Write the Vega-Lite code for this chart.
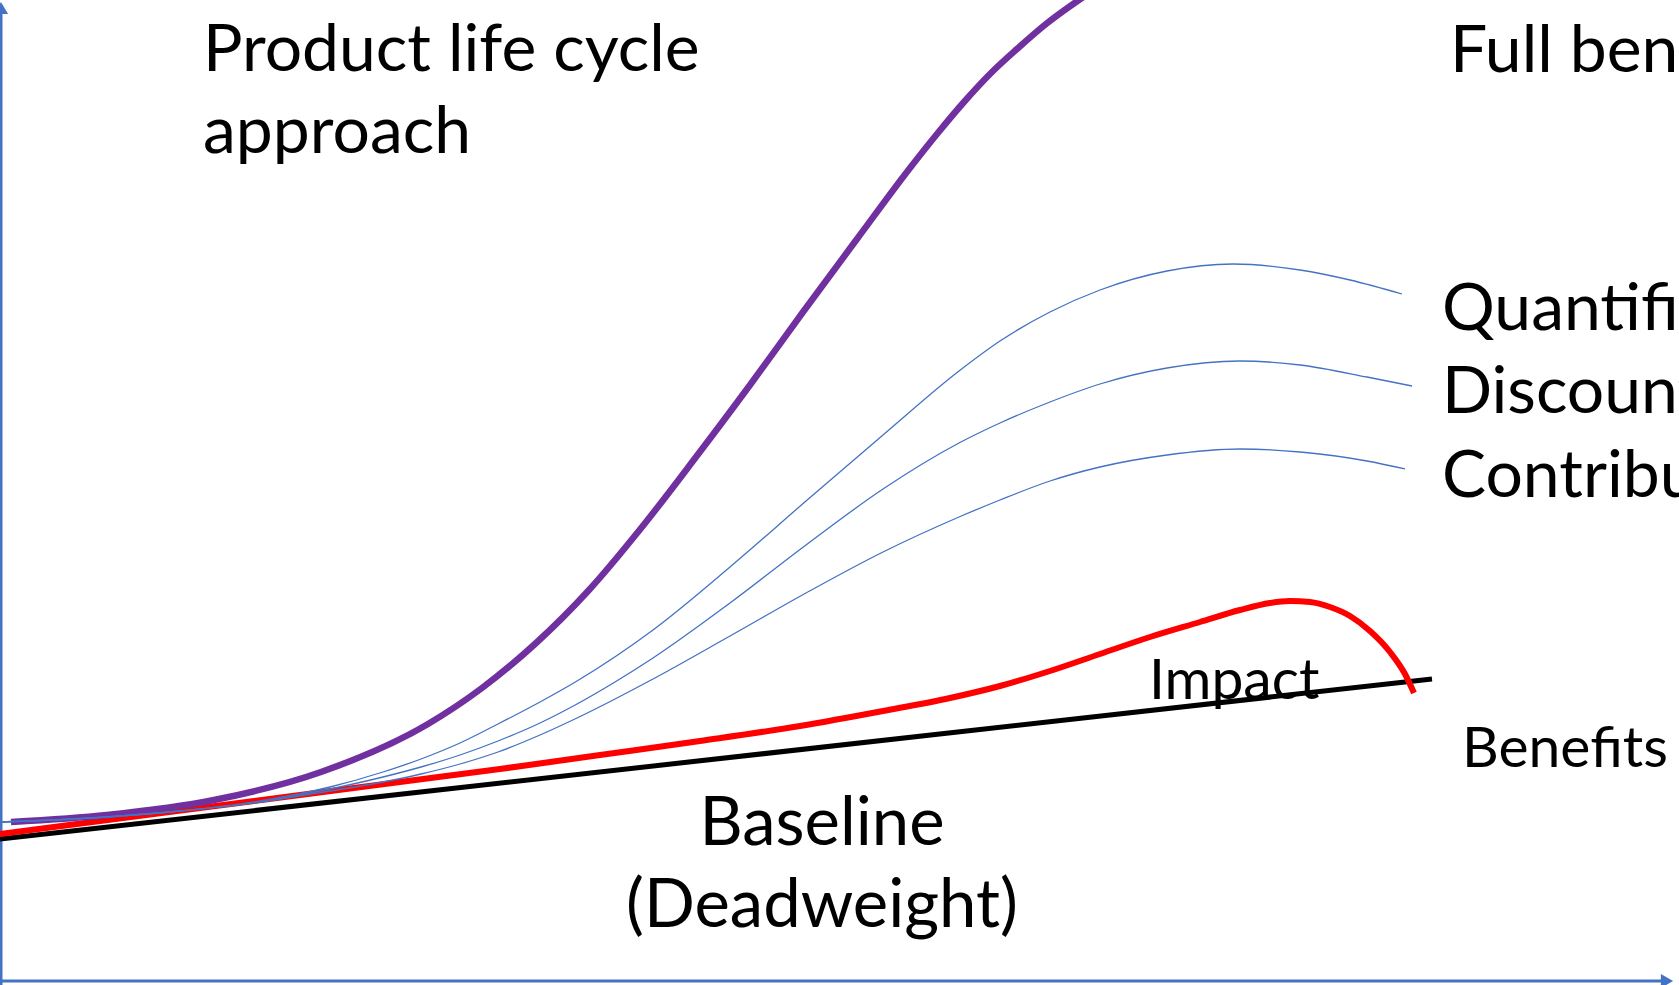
{
  "$schema": "https://vega.github.io/schema/vega-lite/v6.json",
  "width": 1679,
  "height": 985,
  "autosize": "none",
  "padding": 0,
  "background": "white",
  "view": {"stroke": null},
  "config": {"font": "Lato"},
  "datasets": {
    "curves": [
      {"series": "Baseline", "x": 0, "y": 839},
      {"series": "Baseline", "x": 1432, "y": 679},
      {"series": "Impact", "x": 0, "y": 834},
      {"series": "Impact", "x": 100, "y": 821},
      {"series": "Impact", "x": 200, "y": 808},
      {"series": "Impact", "x": 300, "y": 795},
      {"series": "Impact", "x": 400, "y": 782},
      {"series": "Impact", "x": 500, "y": 769},
      {"series": "Impact", "x": 600, "y": 755},
      {"series": "Impact", "x": 700, "y": 741},
      {"series": "Impact", "x": 800, "y": 726},
      {"series": "Impact", "x": 883, "y": 711},
      {"series": "Impact", "x": 950, "y": 698},
      {"series": "Impact", "x": 1000, "y": 686},
      {"series": "Impact", "x": 1050, "y": 671},
      {"series": "Impact", "x": 1100, "y": 654},
      {"series": "Impact", "x": 1150, "y": 637},
      {"series": "Impact", "x": 1200, "y": 622},
      {"series": "Impact", "x": 1240, "y": 610},
      {"series": "Impact", "x": 1270, "y": 603},
      {"series": "Impact", "x": 1290, "y": 601},
      {"series": "Impact", "x": 1310, "y": 602},
      {"series": "Impact", "x": 1330, "y": 607},
      {"series": "Impact", "x": 1350, "y": 616},
      {"series": "Impact", "x": 1370, "y": 631},
      {"series": "Impact", "x": 1390, "y": 652},
      {"series": "Impact", "x": 1405, "y": 674},
      {"series": "Impact", "x": 1414, "y": 693},
      {"series": "Full", "x": 11, "y": 822},
      {"series": "Full", "x": 107, "y": 815},
      {"series": "Full", "x": 214, "y": 800},
      {"series": "Full", "x": 321, "y": 772},
      {"series": "Full", "x": 428, "y": 724},
      {"series": "Full", "x": 482, "y": 688},
      {"series": "Full", "x": 535, "y": 644},
      {"series": "Full", "x": 589, "y": 590},
      {"series": "Full", "x": 642, "y": 527},
      {"series": "Full", "x": 696, "y": 457},
      {"series": "Full", "x": 750, "y": 385},
      {"series": "Full", "x": 803, "y": 312},
      {"series": "Full", "x": 857, "y": 239},
      {"series": "Full", "x": 910, "y": 168},
      {"series": "Full", "x": 937, "y": 134},
      {"series": "Full", "x": 964, "y": 102},
      {"series": "Full", "x": 990, "y": 74},
      {"series": "Full", "x": 1017, "y": 49},
      {"series": "Full", "x": 1046, "y": 24},
      {"series": "Full", "x": 1076, "y": 2},
      {"series": "Full", "x": 1110, "y": -20},
      {"series": "Quantified", "x": 0, "y": 822},
      {"series": "Quantified", "x": 90, "y": 818},
      {"series": "Quantified", "x": 180, "y": 811},
      {"series": "Quantified", "x": 260, "y": 801},
      {"series": "Quantified", "x": 330, "y": 787},
      {"series": "Quantified", "x": 383, "y": 772},
      {"series": "Quantified", "x": 421, "y": 759},
      {"series": "Quantified", "x": 460, "y": 743},
      {"series": "Quantified", "x": 498, "y": 724},
      {"series": "Quantified", "x": 540, "y": 702},
      {"series": "Quantified", "x": 577, "y": 681},
      {"series": "Quantified", "x": 653, "y": 630},
      {"series": "Quantified", "x": 730, "y": 567},
      {"series": "Quantified", "x": 806, "y": 501},
      {"series": "Quantified", "x": 883, "y": 435},
      {"series": "Quantified", "x": 959, "y": 371},
      {"series": "Quantified", "x": 1000, "y": 341},
      {"series": "Quantified", "x": 1050, "y": 312},
      {"series": "Quantified", "x": 1100, "y": 290},
      {"series": "Quantified", "x": 1167, "y": 271},
      {"series": "Quantified", "x": 1233, "y": 264},
      {"series": "Quantified", "x": 1300, "y": 270},
      {"series": "Quantified", "x": 1350, "y": 280},
      {"series": "Quantified", "x": 1402, "y": 294},
      {"series": "Discounted", "x": 0, "y": 822},
      {"series": "Discounted", "x": 90, "y": 818},
      {"series": "Discounted", "x": 180, "y": 811},
      {"series": "Discounted", "x": 260, "y": 802},
      {"series": "Discounted", "x": 330, "y": 789},
      {"series": "Discounted", "x": 383, "y": 777},
      {"series": "Discounted", "x": 421, "y": 767},
      {"series": "Discounted", "x": 460, "y": 755},
      {"series": "Discounted", "x": 498, "y": 741},
      {"series": "Discounted", "x": 540, "y": 723},
      {"series": "Discounted", "x": 577, "y": 704},
      {"series": "Discounted", "x": 615, "y": 682},
      {"series": "Discounted", "x": 653, "y": 658},
      {"series": "Discounted", "x": 730, "y": 603},
      {"series": "Discounted", "x": 806, "y": 545},
      {"series": "Discounted", "x": 883, "y": 489},
      {"series": "Discounted", "x": 959, "y": 443},
      {"series": "Discounted", "x": 1000, "y": 423},
      {"series": "Discounted", "x": 1050, "y": 402},
      {"series": "Discounted", "x": 1100, "y": 384},
      {"series": "Discounted", "x": 1167, "y": 368},
      {"series": "Discounted", "x": 1240, "y": 361},
      {"series": "Discounted", "x": 1300, "y": 365},
      {"series": "Discounted", "x": 1367, "y": 377},
      {"series": "Discounted", "x": 1412, "y": 386},
      {"series": "Contribution", "x": 0, "y": 822},
      {"series": "Contribution", "x": 90, "y": 818},
      {"series": "Contribution", "x": 180, "y": 811},
      {"series": "Contribution", "x": 260, "y": 802},
      {"series": "Contribution", "x": 330, "y": 791},
      {"series": "Contribution", "x": 383, "y": 782},
      {"series": "Contribution", "x": 421, "y": 774},
      {"series": "Contribution", "x": 460, "y": 764},
      {"series": "Contribution", "x": 498, "y": 752},
      {"series": "Contribution", "x": 540, "y": 735},
      {"series": "Contribution", "x": 577, "y": 718},
      {"series": "Contribution", "x": 653, "y": 679},
      {"series": "Contribution", "x": 730, "y": 636},
      {"series": "Contribution", "x": 806, "y": 593},
      {"series": "Contribution", "x": 883, "y": 552},
      {"series": "Contribution", "x": 959, "y": 517},
      {"series": "Contribution", "x": 1000, "y": 500},
      {"series": "Contribution", "x": 1050, "y": 481},
      {"series": "Contribution", "x": 1100, "y": 467},
      {"series": "Contribution", "x": 1167, "y": 455},
      {"series": "Contribution", "x": 1240, "y": 449},
      {"series": "Contribution", "x": 1300, "y": 452},
      {"series": "Contribution", "x": 1367, "y": 461},
      {"series": "Contribution", "x": 1405, "y": 469}
    ],
    "axes": [
      {"axis": "vertical", "x": 1, "y": 985, "x2": 1, "y2": 8},
      {"axis": "horizontal", "x": 0, "y": 981, "x2": 1662, "y2": 981}
    ],
    "arrows": [
      {"axis": "vertical", "x": 1, "y": 8, "dir": "up"},
      {"axis": "horizontal", "x": 1667, "y": 981, "dir": "right"}
    ],
    "bigText": [
      {"label": "Product life cycle", "x": 203, "y": 71},
      {"label": "approach", "x": 203, "y": 153},
      {"label": "Full benefits", "x": 1450, "y": 72},
      {"label": "Quantified", "x": 1442, "y": 330},
      {"label": "Discounted", "x": 1442, "y": 413},
      {"label": "Contribution", "x": 1442, "y": 497}
    ],
    "centerText": [
      {"label": "Baseline", "x": 822, "y": 845},
      {"label": "(Deadweight)", "x": 822, "y": 927}
    ],
    "smallText": [
      {"label": "Impact", "x": 1149, "y": 699},
      {"label": "Benefits", "x": 1462, "y": 767}
    ]
  },
  "layer": [
    {
      "data": {"name": "axes"},
      "mark": {"type": "rule", "color": "#4472C4", "strokeWidth": 3},
      "encoding": {
        "x": {"field": "x", "type": "quantitative", "scale": {"domain": [0, 1679], "nice": false, "zero": false}, "axis": null},
        "y": {"field": "y", "type": "quantitative", "scale": {"domain": [0, 985], "nice": false, "zero": false, "reverse": true}, "axis": null},
        "x2": {"field": "x2"},
        "y2": {"field": "y2"}
      }
    },
    {
      "data": {"name": "arrows"},
      "transform": [{"filter": "datum.dir === 'up'"}],
      "mark": {"type": "point", "shape": "triangle-up", "filled": true, "color": "#4472C4", "size": 200, "opacity": 1},
      "encoding": {
        "x": {"field": "x", "type": "quantitative"},
        "y": {"field": "y", "type": "quantitative"}
      }
    },
    {
      "data": {"name": "arrows"},
      "transform": [{"filter": "datum.dir === 'right'"}],
      "mark": {"type": "point", "shape": "triangle-right", "filled": true, "color": "#4472C4", "size": 200, "opacity": 1},
      "encoding": {
        "x": {"field": "x", "type": "quantitative"},
        "y": {"field": "y", "type": "quantitative"}
      }
    },
    {
      "data": {"name": "curves"},
      "transform": [{"filter": "datum.series === 'Baseline'"}],
      "mark": {"type": "line", "color": "#000000", "strokeWidth": 5, "clip": true},
      "encoding": {
        "x": {"field": "x", "type": "quantitative"},
        "y": {"field": "y", "type": "quantitative"}
      }
    },
    {
      "data": {"name": "curves"},
      "transform": [{"filter": "datum.series === 'Impact'"}],
      "mark": {"type": "line", "color": "#FF0000", "strokeWidth": 6, "interpolate": "monotone", "clip": true},
      "encoding": {
        "x": {"field": "x", "type": "quantitative"},
        "y": {"field": "y", "type": "quantitative"}
      }
    },
    {
      "data": {"name": "curves"},
      "transform": [{"filter": "datum.series === 'Full'"}],
      "mark": {"type": "line", "color": "#7030A0", "strokeWidth": 6.5, "interpolate": "monotone", "clip": true},
      "encoding": {
        "x": {"field": "x", "type": "quantitative"},
        "y": {"field": "y", "type": "quantitative"}
      }
    },
    {
      "data": {"name": "curves"},
      "transform": [{"filter": "datum.series === 'Quantified' || datum.series === 'Discounted' || datum.series === 'Contribution'"}],
      "mark": {"type": "line", "color": "#4472C4", "strokeWidth": 1.3, "interpolate": "monotone", "clip": true},
      "encoding": {
        "x": {"field": "x", "type": "quantitative"},
        "y": {"field": "y", "type": "quantitative"},
        "detail": {"field": "series", "type": "nominal"}
      }
    },
    {
      "data": {"name": "bigText"},
      "mark": {"type": "text", "align": "left", "baseline": "alphabetic", "fontSize": 66, "color": "#000000", "font": "Lato"},
      "encoding": {
        "x": {"field": "x", "type": "quantitative"},
        "y": {"field": "y", "type": "quantitative"},
        "text": {"field": "label"}
      }
    },
    {
      "data": {"name": "centerText"},
      "mark": {"type": "text", "align": "center", "baseline": "alphabetic", "fontSize": 67, "color": "#000000", "font": "Lato"},
      "encoding": {
        "x": {"field": "x", "type": "quantitative"},
        "y": {"field": "y", "type": "quantitative"},
        "text": {"field": "label"}
      }
    },
    {
      "data": {"name": "smallText"},
      "mark": {"type": "text", "align": "left", "baseline": "alphabetic", "fontSize": 57, "color": "#000000", "font": "Lato"},
      "encoding": {
        "x": {"field": "x", "type": "quantitative"},
        "y": {"field": "y", "type": "quantitative"},
        "text": {"field": "label"}
      }
    }
  ]
}
